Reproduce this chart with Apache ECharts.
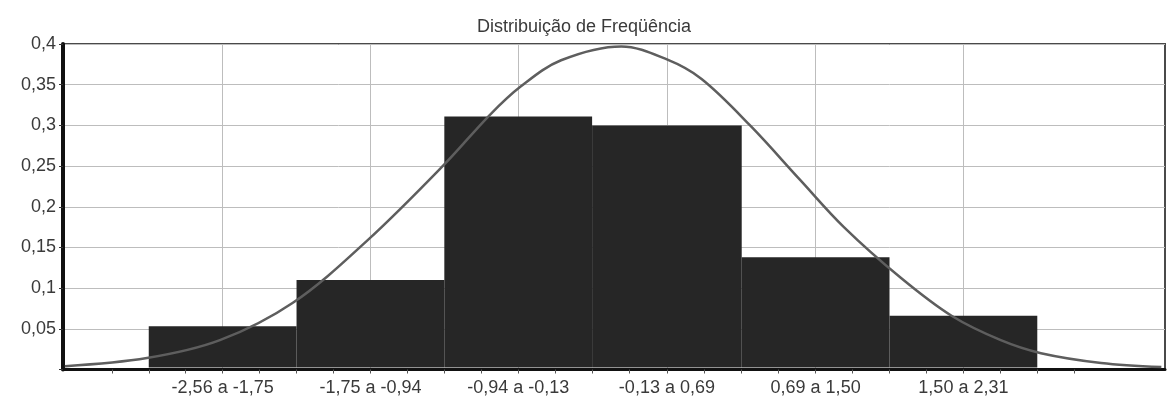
<!DOCTYPE html>
<html>
<head>
<meta charset="utf-8">
<script src="https://cdn.jsdelivr.net/npm/echarts@6/dist/echarts.min.js"></script>
<style>
  html, body { margin: 0; padding: 0; background: #ffffff; }
  #chart { width: 1168px; height: 411px; }
</style>
</head>
<body>
<div id="chart"></div>
<script>
// ---- data ----
const titleText = 'Distribuição de Freqüência';
const binEdges = [-2.56, -1.75, -0.94, -0.13, 0.69, 1.50, 2.31];
const binLabels = ['-2,56 a -1,75', '-1,75 a -0,94', '-0,94 a -0,13', '-0,13 a 0,69', '0,69 a 1,50', '1,50 a 2,31'];
const binValues = [0.053, 0.110, 0.311, 0.300, 0.138, 0.066];
// normal curve, points (x in class units, y density)
const curveX = [-3.02, -2.57, -2.17, -1.77, -1.36, -0.94, -0.69, -0.52, -0.30, 0.03, 0.28, 0.47, 0.74, 1.01, 1.25, 1.56, 1.84, 2.11, 2.33, 2.66, 2.99];
const curveY = [0.004, 0.014, 0.036, 0.082, 0.159, 0.252, 0.313, 0.348, 0.380, 0.397, 0.381, 0.357, 0.299, 0.233, 0.175, 0.113, 0.066, 0.036, 0.020, 0.008, 0.003];
const yTicks = { min: 0, max: 0.4, step: 0.05 };

// ---- derived ----
const centers = binValues.map((v, i) => (binEdges[i] + binEdges[i + 1]) / 2);
const quarterTicks = [];
(function () {
  const q = (binEdges[1] - binEdges[0]) / 4;
  for (let i = 0; i < binValues.length; i++) {
    const a = binEdges[i], b = binEdges[i + 1], qq = (b - a) / 4;
    for (let k = 0; k < 4; k++) quarterTicks.push(a + k * qq);
  }
  quarterTicks.push(binEdges[binEdges.length - 1]);
  quarterTicks.unshift(binEdges[0] - q);
  quarterTicks.push(binEdges[binEdges.length - 1] + q);
})();
const histData = binValues.map((v, i) => [binEdges[i], binEdges[i + 1], v]);
const curveData = curveX.map((x, i) => [x, curveY[i]]);

const FONT = 'Liberation Sans, Arial, sans-serif';
const xMin = -3.03, xMax = 3.01;

const chart = echarts.init(document.getElementById('chart'), null, { renderer: 'canvas' });
chart.setOption({
  animation: false,
  backgroundColor: '#ffffff',
  title: {
    text: titleText,
    left: 'center',
    top: 13,
    textStyle: { fontFamily: FONT, fontSize: 18, fontWeight: 'normal', color: '#3a3a3a' }
  },
  grid: {
    left: 63, right: 3, top: 44, bottom: 41.5,
    show: true, borderColor: '#4a4a4a', borderWidth: 2,
    containLabel: false
  },
  xAxis: [
    {
      type: 'value', min: xMin, max: xMax, position: 'bottom',
      axisLine: { show: true, onZero: false, lineStyle: { color: '#111111', width: 3 } },
      axisTick: { show: false, customValues: centers },
      axisLabel: {
        show: true, customValues: centers, margin: 10,
        fontFamily: FONT, fontSize: 18, color: '#3a3a3a',
        formatter: function (val) {
          let best = 0, d = Infinity;
          centers.forEach((c, i) => { const dd = Math.abs(c - val); if (dd < d) { d = dd; best = i; } });
          return binLabels[best];
        }
      },
      splitLine: { show: true, lineStyle: { color: '#bdbdbd', width: 1 } }
    },
    {
      type: 'value', min: xMin, max: xMax, position: 'bottom',
      axisLine: { show: false, onZero: false },
      axisTick: { show: true, customValues: quarterTicks, length: 4, inside: false, lineStyle: { color: '#555555', width: 1 } },
      axisLabel: { show: false },
      splitLine: { show: false }
    }
  ],
  yAxis: {
    type: 'value', min: yTicks.min, max: yTicks.max, interval: yTicks.step,
    axisLine: { show: true, onZero: false, lineStyle: { color: '#111111', width: 4 } },
    axisTick: { show: true, length: 4, lineStyle: { color: '#333333' } },
    axisLabel: {
      margin: 7, fontFamily: FONT, fontSize: 18, color: '#3a3a3a',
      formatter: function (v) {
        if (Math.abs(v) < 1e-9) return '';
        return String(+v.toFixed(2)).replace('.', ',');
      }
    },
    splitLine: { show: true, lineStyle: { color: '#bdbdbd', width: 1 } }
  },
  series: [
    {
      type: 'custom',
      xAxisIndex: 0,
      z: 2,
      data: histData,
      encode: { x: [0, 1], y: 2 },
      renderItem: function (params, api) {
        const p0 = api.coord([api.value(0), api.value(2)]);
        const p1 = api.coord([api.value(1), 0]);
        return {
          type: 'rect',
          shape: { x: p0[0], y: p0[1], width: p1[0] - p0[0], height: p1[1] - p0[1] - 2 },
          style: { fill: '#262626', stroke: null }
        };
      }
    },
    {
      type: 'line',
      xAxisIndex: 0,
      z: 3,
      data: curveData,
      smooth: 0.35,
      symbol: 'none',
      lineStyle: { color: '#5e5e5e', width: 2.5 }
    }
  ]
});
</script>
</body>
</html>
